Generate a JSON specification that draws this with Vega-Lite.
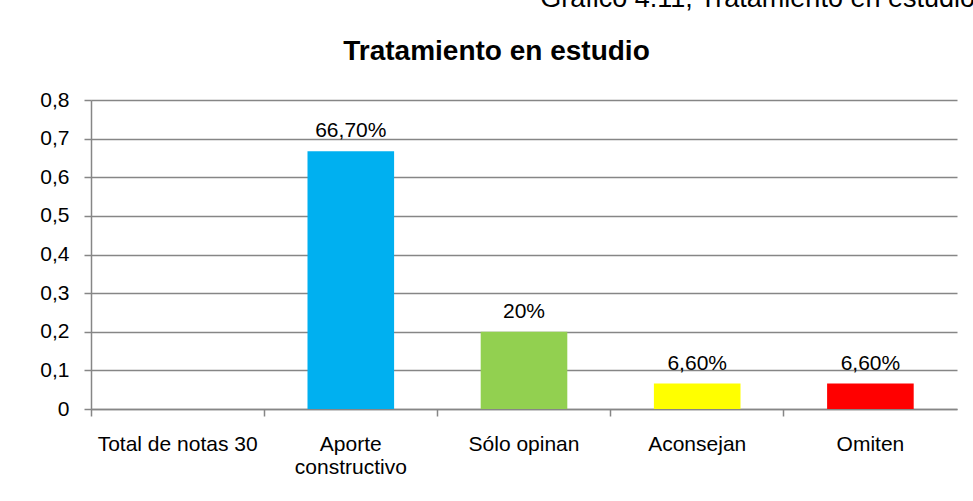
{
  "$schema": "https://vega.github.io/schema/vega-lite/v6.json",
  "width": 866,
  "height": 309,
  "autosize": {"type": "none"},
  "padding": {"left": 91, "top": 100, "right": 16, "bottom": 92},
  "background": "white",
  "title": {
    "text": "Gráfico 4.11, Tratamiento en estudio",
    "anchor": "end",
    "frame": "group",
    "dx": 18,
    "dy": 15,
    "offset": 18,
    "baseline": "alphabetic",
    "font": "Liberation Sans",
    "fontSize": 27,
    "fontWeight": "normal",
    "color": "black"
  },
  "data": {
    "values": [
      {"categoria": "Total de notas 30", "valor": 0, "etiqueta": ""},
      {"categoria": "Aporte constructivo", "valor": 0.667, "etiqueta": "66,70%"},
      {"categoria": "Sólo opinan", "valor": 0.2, "etiqueta": "20%"},
      {"categoria": "Aconsejan", "valor": 0.066, "etiqueta": "6,60%"},
      {"categoria": "Omiten", "valor": 0.066, "etiqueta": "6,60%"}
    ]
  },
  "config": {
    "view": {"stroke": null},
    "font": "Liberation Sans"
  },
  "encoding": {
    "x": {
      "field": "categoria",
      "type": "nominal",
      "sort": null,
      "scale": {"paddingInner": 0, "paddingOuter": 0},
      "axis": {
        "title": "Tratamiento en estudio",
        "titleFont": "Liberation Sans",
        "titleFontSize": 28,
        "titleFontWeight": "bold",
        "titleColor": "black",
        "titleAlign": "center",
        "titleBaseline": "alphabetic",
        "titleX": 405,
        "titleY": -350,
        "labelAngle": 0,
        "labelFontSize": 21,
        "labelColor": "black",
        "labelPadding": 17,
        "labelLineHeight": 23,
        "labelBaseline": "top",
        "labelExpr": "datum.value == 'Aporte constructivo' ? ['Aporte', 'constructivo'] : datum.value",
        "bandPosition": 0,
        "tickSize": 7,
        "tickColor": "#868686",
        "tickWidth": 1.5,
        "domainColor": "#868686",
        "domainWidth": 1.5,
        "grid": false
      }
    },
    "y": {
      "field": "valor",
      "type": "quantitative",
      "scale": {"domain": [0, 0.8], "nice": false},
      "axis": {
        "title": null,
        "values": [0, 0.1, 0.2, 0.3, 0.4, 0.5, 0.6, 0.7, 0.8],
        "labelExpr": "datum.value == 0 ? '0' : replace(format(datum.value, '.1f'), '.', ',')",
        "labelFontSize": 21,
        "labelColor": "black",
        "labelPadding": 15,
        "tickSize": 7,
        "tickColor": "#868686",
        "tickWidth": 1.5,
        "domainColor": "#868686",
        "domainWidth": 1.5,
        "gridColor": "#868686",
        "gridWidth": 1.5
      }
    }
  },
  "layer": [
    {
      "mark": {"type": "bar", "width": {"band": 0.5}},
      "encoding": {
        "color": {
          "field": "categoria",
          "type": "nominal",
          "scale": {
            "domain": ["Total de notas 30", "Aporte constructivo", "Sólo opinan", "Aconsejan", "Omiten"],
            "range": ["#FFFFFF", "#00B0F0", "#92D050", "#FFFF00", "#FF0000"]
          },
          "legend": null
        }
      }
    },
    {
      "mark": {"type": "text", "baseline": "alphabetic", "dy": -14, "fontSize": 21, "color": "black"},
      "encoding": {
        "text": {"field": "etiqueta"}
      }
    }
  ]
}
